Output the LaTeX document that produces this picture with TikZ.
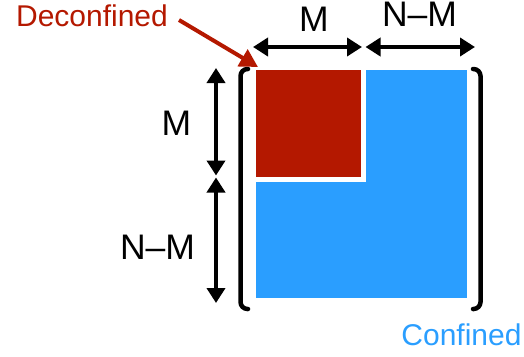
\documentclass[tikz,border=0pt]{standalone}
\usepackage{fontspec}
\setmainfont{Liberation Sans}
\usetikzlibrary{arrows.meta}
\definecolor{decred}{RGB}{180,24,0}
\definecolor{confblue}{RGB}{42,158,255}
\tikzset{
  dimarrow/.style={line width=4pt,{Triangle[length=15pt,width=18pt]}-{Triangle[length=15pt,width=18pt]}},
  bracket/.style={line width=4.5pt,rounded corners=7pt,line cap=round},
  dimlabel/.style={inner sep=0pt,anchor=base,font=\fontsize{35.5}{40}\selectfont},
  namelabel/.style={inner sep=0pt,anchor=base,font=\fontsize{30}{36}\selectfont},
}
\begin{document}
\begin{tikzpicture}[x=1pt,y=-1pt]
\useasboundingbox (0,0) rectangle (524,356);
% blocks
\fill[confblue] (256,70) rectangle (467,298);
\fill[white] (256,70) rectangle (366,182);
\fill[decred] (256,70) rectangle (361,177);
% brackets
\draw[bracket] (248,69) -- (240.5,69) -- (240.5,309) -- (248,309);
\draw[bracket] (473,69) -- (480.5,69) -- (480.5,309) -- (473,309);
% dimension arrows
\coordinate (h1) at (253,47);
\coordinate (h2) at (362,47);
\coordinate (h3) at (365.5,47);
\coordinate (h4) at (475,47);
\coordinate (v1) at (216,68);
\coordinate (v2) at (216,175.5);
\coordinate (v3) at (216,177.5);
\coordinate (v4) at (216,303);
\draw[dimarrow] (h1) -- (h2);
\draw[dimarrow] (h3) -- (h4);
\draw[dimarrow] (v1) -- (v2);
\draw[dimarrow] (v3) -- (v4);
% labels
\node[dimlabel] (mtop) at (314,31) {M};
\node[dimlabel] (nmtop) at (419.5,27) {N–M};
\node[dimlabel] (mleft) at (176.5,135) {M};
\node[dimlabel] (nmleft) at (157.5,259) {N–M};
\node[namelabel,text=decred] (dec) at (92,27) {Deconfined};
\node[namelabel,text=confblue] (conf) at (461.5,345) {Confined};
% red pointer
\coordinate (ps) at (179,20);
\coordinate (pt) at (258,67);
\draw[decred,line width=4pt,-{Triangle[length=18pt,width=19pt]}] (ps) -- (pt);
\end{tikzpicture}
\end{document}
